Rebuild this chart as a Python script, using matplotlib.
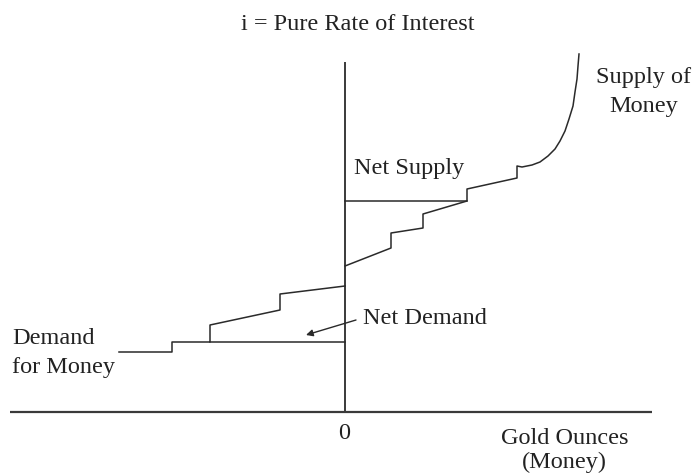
import matplotlib
matplotlib.use("Agg")
import matplotlib.pyplot as plt

plt.rcParams['font.family'] = ['Liberation Serif', 'DejaVu Serif']

# Demand for money: stepped schedule left of the origin (gold ounces, interest)
demand_x = [-22.6, -17.3, -17.3, -13.5, -13.5, -6.5, -6.5, 0.0]
demand_y = [6.0, 6.0, 7.0, 7.0, 8.7, 10.2, 11.8, 12.6]

# Supply of money: stepped schedule right of the origin, then rising steeply
supply_x = [0.0, 4.6, 4.6, 7.8, 7.8, 12.2, 12.2, 17.2, 17.2, 17.7, 18.7, 19.5,
            20.3, 21.0, 21.5, 22.0, 22.4, 22.8, 23.0, 23.2, 23.3, 23.4]
supply_y = [14.6, 16.4, 17.9, 18.4, 19.8, 21.1, 22.3, 23.4, 24.6, 24.5, 24.7,
            25.0, 25.6, 26.3, 27.1, 28.1, 29.3, 30.6, 32.0, 33.3, 34.6, 35.8]

# Net demand / net supply reference levels
net_demand_x = [-13.5, 0.0]
net_demand_y = [7.0, 7.0]
net_supply_x = [0.0, 12.2]
net_supply_y = [21.1, 21.1]

# Axis extents
x_axis = [-33.5, 30.7]
y_axis = [0.0, 35.0]

fig = plt.figure(figsize=(6.93, 4.77), dpi=100)
ax = fig.add_axes([0, 0, 1, 1])
ax.set_xlim(-34.5, 34.8)
ax.set_ylim(-6.4, 41.3)
ax.axis('off')

axis_col = '#3a3a3a'
line_col = '#2a2a2a'
text_col = '#222222'
fs = 17.5

ax.plot(x_axis, [0, 0], color=axis_col, lw=1.6, solid_capstyle='butt')
ax.plot([0, 0], y_axis, color=axis_col, lw=1.4, solid_capstyle='butt')

ax.plot(demand_x, demand_y, color=line_col, lw=1.1)
ax.plot(supply_x, supply_y, color=line_col, lw=1.1)
ax.plot(net_demand_x, net_demand_y, color=line_col, lw=1.1)
ax.plot(net_supply_x, net_supply_y, color=line_col, lw=1.1)

ax.annotate('', xy=(-3.9, 7.7), xytext=(1.1, 9.2),
            arrowprops=dict(arrowstyle='-|>', color=line_col, lw=1.0,
                            mutation_scale=10, shrinkA=0, shrinkB=0))

ax.text(1.3, 38.8, 'i = Pure Rate of Interest', ha='center', va='center',
        fontsize=fs, color=text_col)
ax.text(29.9, 33.5, 'Supply of', ha='center', va='center', fontsize=fs, color=text_col)
ax.text(29.9, 30.6, 'Money', ha='center', va='center', fontsize=fs, color=text_col)
ax.text(6.4, 24.4, 'Net Supply', ha='center', va='center', fontsize=fs, color=text_col)
ax.text(1.8, 9.4, 'Net Demand', ha='left', va='center', fontsize=fs, color=text_col)
ax.text(-33.3, 7.4, 'Demand', ha='left', va='center', fontsize=fs, color=text_col)
ax.text(-33.3, 4.5, 'for Money', ha='left', va='center', fontsize=fs, color=text_col)
ax.text(-0.1, -2.1, '0', ha='center', va='center', fontsize=fs, color=text_col)
ax.text(22.0, -2.6, 'Gold Ounces', ha='center', va='center', fontsize=fs, color=text_col)
ax.text(21.9, -4.9, '(Money)', ha='center', va='center', fontsize=fs, color=text_col)

fig.savefig('out.png', dpi=100, facecolor='white')
